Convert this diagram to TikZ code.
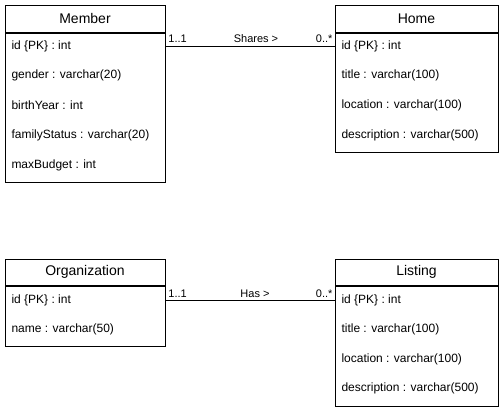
\documentclass[tikz,border=0pt]{standalone}
\usepackage{fontspec}
\setmainfont{Liberation Sans}
\usepackage{tikz}

\begin{document}
\begin{tikzpicture}[x=0.75pt, y=-0.75pt, line width=0.75pt,
    headbox/.style={draw, rectangle, inner sep=0pt, minimum height=20.25pt,
      font=\fontsize{10.5}{12}\selectfont},
    bodybox/.style={draw, rectangle, inner sep=0pt, anchor=north},
    attr/.style={anchor=west, inner sep=0pt, font=\fontsize{9}{11}\selectfont},
    mult/.style={inner sep=0pt, font=\fontsize{8.25}{10}\selectfont}]
  \useasboundingbox (0,0) rectangle (501,414);

  % Member
  \node[headbox, minimum width=120pt] (member) at (85,18.5) {Member};
  \node[bodybox, minimum width=120pt, minimum height=111.75pt] (memberbody) at (member.south) {};
  \node[attr] (member-id) at (11,46) {id \{PK\} : int};
  \node[attr] (member-gender) at (11,75.5) {gender : varchar(20)};
  \node[attr] (member-year) at (11,105.5) {birthYear : int};
  \node[attr] (member-status) at (11,135.5) {familyStatus : varchar(20)};
  \node[attr] (member-budget) at (11,165.5) {maxBudget : int};

  % Home
  \node[headbox, minimum width=122.25pt] (home) at (416.5,18.5) {Home};
  \node[bodybox, minimum width=122.25pt, minimum height=89.25pt] (homebody) at (home.south) {};
  \node[attr] (home-id) at (341,46) {id \{PK\} : int};
  \node[attr] (home-title) at (341,75.5) {title : varchar(100)};
  \node[attr] (home-loc) at (341,105.5) {location : varchar(100)};
  \node[attr] (home-desc) at (341,135.5) {description : varchar(500)};

  % Organization
  \node[headbox, minimum width=120pt, minimum height=19.5pt] (org) at (85,272) {Organization};
  \node[bodybox, minimum width=120pt, minimum height=45pt] (orgbody) at (org.south) {};
  \node[attr] (org-id) at (11,300) {id \{PK\} : int};
  \node[attr] (org-name) at (11,329) {name : varchar(50)};

  % Listing
  \node[headbox, minimum width=122.25pt, minimum height=19.5pt] (listing) at (416.5,272) {Listing};
  \node[bodybox, minimum width=122.25pt, minimum height=90pt] (listingbody) at (listing.south) {};
  \node[attr] (listing-id) at (341,300) {id \{PK\} : int};
  \node[attr] (listing-title) at (341,329) {title : varchar(100)};
  \node[attr] (listing-loc) at (341,359) {location : varchar(100)};
  \node[attr] (listing-desc) at (341,388) {description : varchar(500)};

  % associations
  \draw (memberbody.east |- member-id) -- (homebody.west |- member-id);
  \node[mult, anchor=base west] (shares-src) at (168,42) {1..1};
  \node[mult, anchor=base] (shares) at (256,42) {Shares >};
  \node[mult, anchor=base east] (shares-dst) at (333,42) {0..*};

  \draw (orgbody.east |- org-id) -- (listingbody.west |- org-id);
  \node[mult, anchor=base west] (has-src) at (168,297) {1..1};
  \node[mult, anchor=base] (has) at (255,297) {Has >};
  \node[mult, anchor=base east] (has-dst) at (333,297) {0..*};
\end{tikzpicture}
\end{document}
